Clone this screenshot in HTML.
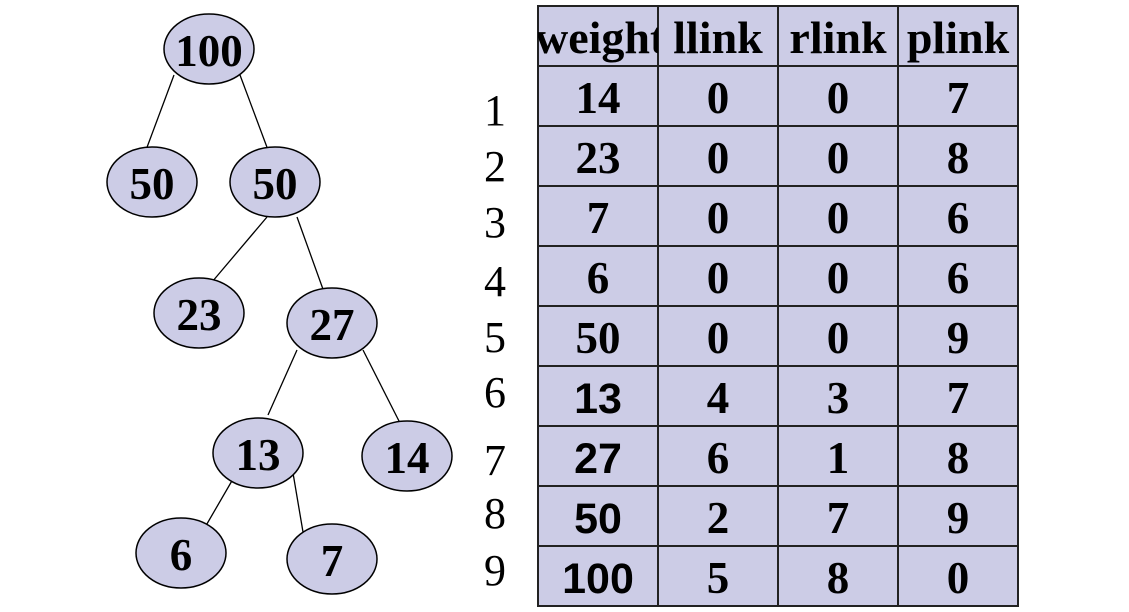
<!DOCTYPE html>
<html><head><meta charset="utf-8"><style>
html,body{margin:0;padding:0;background:#fff;}
svg{display:block;}
.t{font-family:"Liberation Serif",serif;font-weight:bold;font-size:45px;text-anchor:middle;fill:#000;}
.a{font-family:"Liberation Sans",sans-serif;font-weight:bold;font-size:43px;text-anchor:middle;fill:#000;}
.n{font-family:"Liberation Serif",serif;font-size:44px;text-anchor:middle;fill:#000;}
.h{font-family:"Liberation Serif",serif;font-weight:bold;font-size:46px;text-anchor:middle;fill:#000;}
</style></head><body>
<svg width="1129" height="612" viewBox="0 0 1129 612" xmlns="http://www.w3.org/2000/svg">
<defs><clipPath id="c1"><rect x="538" y="6" width="120" height="60"/></clipPath></defs>
<g stroke="#000" stroke-width="1.3">
<line x1="174" y1="75" x2="146" y2="150"/>
<line x1="240" y1="75" x2="268" y2="150"/>
<line x1="267" y1="217" x2="212" y2="282"/>
<line x1="297" y1="217" x2="324" y2="292"/>
<line x1="297" y1="350" x2="268" y2="415"/>
<line x1="363" y1="350" x2="400" y2="423"/>
<line x1="233" y1="479" x2="204" y2="529"/>
<line x1="293" y1="473" x2="303" y2="532"/>
</g>
<g fill="#cccce6" stroke="#000" stroke-width="1.5">
<ellipse cx="209" cy="49" rx="45" ry="35"/>
<ellipse cx="152" cy="182" rx="45" ry="35"/>
<ellipse cx="275" cy="182" rx="45" ry="35"/>
<ellipse cx="199" cy="313" rx="45" ry="35"/>
<ellipse cx="332" cy="323" rx="45" ry="35"/>
<ellipse cx="258" cy="453" rx="45" ry="35"/>
<ellipse cx="407" cy="456" rx="45" ry="35"/>
<ellipse cx="181" cy="553" rx="45" ry="35"/>
<ellipse cx="332" cy="559" rx="45" ry="35"/>
</g>
<text class="t" x="209" y="66">100</text>
<text class="t" x="152" y="199">50</text>
<text class="t" x="275" y="199">50</text>
<text class="t" x="199" y="330">23</text>
<text class="t" x="332" y="340">27</text>
<text class="t" x="258" y="470">13</text>
<text class="t" x="407" y="473">14</text>
<text class="t" x="181" y="570">6</text>
<text class="t" x="332" y="576">7</text>
<rect x="538" y="6" width="480" height="600" fill="#cccce6" stroke="#222" stroke-width="2"/>
<g stroke="#222" stroke-width="2">
<line x1="658" y1="6" x2="658" y2="606"/>
<line x1="778" y1="6" x2="778" y2="606"/>
<line x1="898" y1="6" x2="898" y2="606"/>
<line x1="538" y1="66" x2="1018" y2="66"/>
<line x1="538" y1="126" x2="1018" y2="126"/>
<line x1="538" y1="186" x2="1018" y2="186"/>
<line x1="538" y1="246" x2="1018" y2="246"/>
<line x1="538" y1="306" x2="1018" y2="306"/>
<line x1="538" y1="366" x2="1018" y2="366"/>
<line x1="538" y1="426" x2="1018" y2="426"/>
<line x1="538" y1="486" x2="1018" y2="486"/>
<line x1="538" y1="546" x2="1018" y2="546"/>
</g>
<g clip-path="url(#c1)"><text class="h" x="535" y="53" style="text-anchor:start">weight</text></g>
<text class="h" x="718" y="53">llink</text>
<text class="h" x="838" y="53">rlink</text>
<text class="h" x="958" y="53">plink</text>

<text class="n" x="495" y="125">1</text>
<text class="n" x="495" y="181">2</text>
<text class="n" x="495" y="237">3</text>
<text class="n" x="495" y="296">4</text>
<text class="n" x="495" y="352">5</text>
<text class="n" x="495" y="407">6</text>
<text class="n" x="495" y="475">7</text>
<text class="n" x="495" y="528">8</text>
<text class="n" x="495" y="585">9</text>

<text class="t" x="598" y="113">14</text><text class="t" x="718" y="113">0</text><text class="t" x="838" y="113">0</text><text class="t" x="958" y="113">7</text>
<text class="t" x="598" y="173">23</text><text class="t" x="718" y="173">0</text><text class="t" x="838" y="173">0</text><text class="t" x="958" y="173">8</text>
<text class="t" x="598" y="233">7</text><text class="t" x="718" y="233">0</text><text class="t" x="838" y="233">0</text><text class="t" x="958" y="233">6</text>
<text class="t" x="598" y="293">6</text><text class="t" x="718" y="293">0</text><text class="t" x="838" y="293">0</text><text class="t" x="958" y="293">6</text>
<text class="t" x="598" y="353">50</text><text class="t" x="718" y="353">0</text><text class="t" x="838" y="353">0</text><text class="t" x="958" y="353">9</text>
<text class="a" x="598" y="413">13</text><text class="t" x="718" y="413">4</text><text class="t" x="838" y="413">3</text><text class="t" x="958" y="413">7</text>
<text class="a" x="598" y="473">27</text><text class="t" x="718" y="473">6</text><text class="t" x="838" y="473">1</text><text class="t" x="958" y="473">8</text>
<text class="a" x="598" y="533">50</text><text class="t" x="718" y="533">2</text><text class="t" x="838" y="533">7</text><text class="t" x="958" y="533">9</text>
<text class="a" x="598" y="593">100</text><text class="t" x="718" y="593">5</text><text class="t" x="838" y="593">8</text><text class="t" x="958" y="593">0</text>
</svg>
</body></html>
